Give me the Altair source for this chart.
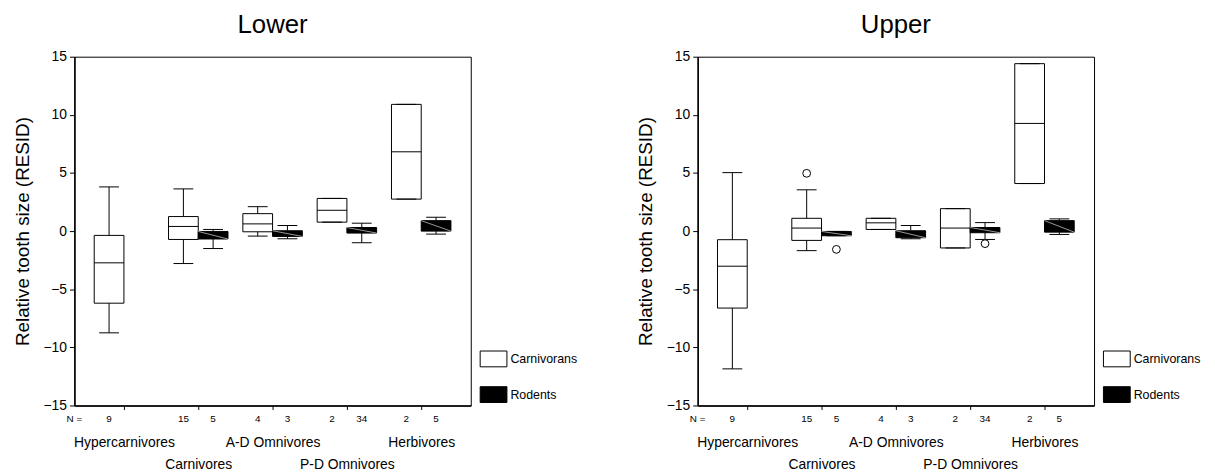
import json
import altair as alt
import pandas as pd

# ---------------- data ----------------
categories = ["Hypercarnivores", "Carnivores", "A-D Omnivores", "P-D Omnivores", "Herbivores"]
groups = ["Carnivorans", "Rodents"]

# Lower teeth
lower_carn_n = [9, 15, 4, 2, 2]
lower_carn_lo = [-8.75, -2.79, -0.43, 0.77, 2.75]
lower_carn_q1 = [-6.2, -0.72, -0.06, 0.77, 2.75]
lower_carn_med = [-2.73, 0.4, 0.62, 1.79, 6.82]
lower_carn_q3 = [-0.37, 1.25, 1.5, 2.81, 10.9]
lower_carn_hi = [3.8, 3.63, 2.1, 2.81, 10.9]

lower_rod_n = [None, 5, 3, 34, 5]
lower_rod_lo = [None, -1.5, -0.66, -1.0, -0.26]
lower_rod_q1 = [None, -0.68, -0.46, -0.17, 0.0]
lower_rod_med = [None, -0.35, -0.25, 0.1, 0.45]
lower_rod_q3 = [None, -0.03, 0.03, 0.31, 0.9]
lower_rod_hi = [None, 0.14, 0.48, 0.68, 1.19]

# Upper teeth
upper_carn_n = [9, 15, 4, 2, 2]
upper_carn_lo = [-11.85, -1.68, 0.14, -1.45, 4.09]
upper_carn_q1 = [-6.62, -0.8, 0.14, -1.45, 4.09]
upper_carn_med = [-3.02, 0.26, 0.71, 0.26, 9.26]
upper_carn_q3 = [-0.74, 1.1, 1.1, 1.93, 14.4]
upper_carn_hi = [5.03, 3.55, 1.1, 1.93, 14.4]

upper_rod_n = [None, 5, 3, 34, 5]
upper_rod_lo = [None, -0.4, -0.66, -0.72, -0.29]
upper_rod_q1 = [None, -0.4, -0.57, -0.14, -0.09]
upper_rod_med = [None, -0.25, -0.3, 0.1, 0.4]
upper_rod_q3 = [None, -0.03, 0.03, 0.31, 0.9]
upper_rod_hi = [None, -0.03, 0.48, 0.73, 1.05]

# outliers: (category, group, value)
lower_out_cat = []
lower_out_grp = []
lower_out_val = []
upper_out_cat = ["Carnivores", "Carnivores", "P-D Omnivores"]
upper_out_grp = ["Carnivorans", "Rodents", "Rodents"]
upper_out_val = [4.97, -1.57, -1.08]

y_ticks = [-15, -10, -5, 0, 5, 10, 15]

FONT = "Liberation Sans"


def build(carn, rod):
    rows = []
    for g, arrs in zip(groups, (carn, rod)):
        n, lo, q1, med, q3, hi = arrs
        for i, c in enumerate(categories):
            if n[i] is None:
                continue
            rows.append(dict(category=c, ci=i, group=g, n=str(n[i]), lo=lo[i], q1=q1[i],
                             med=med[i], q3=q3[i], hi=hi[i]))
    return pd.DataFrame(rows)


def build_out(cats, grps, vals):
    return pd.DataFrame(dict(category=cats, ci=[categories.index(c) for c in cats],
                             group=grps, value=vals))


W, H = 400, 352
XDOM = [-2 / 3, 14 / 3]
label_expr = json.dumps(categories) + "[datum.value]"

xscale = alt.Scale(domain=XDOM, nice=False, zero=False)
yscale = alt.Scale(domain=[-15, 15], nice=False, zero=False)

xaxis = alt.Axis(values=list(range(len(categories))), labelExpr=label_expr, title=None,
                 grid=False, tickSize=4, tickColor="black", domainColor="black",
                 domainWidth=1.5, labelFont=FONT, labelFontSize=14, labelColor="black",
                 labelOverlap=False, labelFlush=False, labelBound=False,
                 labelBaseline="alphabetic",
                 labelPadding={"condition": {"test": "datum.value % 2 == 1", "value": 60},
                               "value": 37})
yaxis = alt.Axis(values=y_ticks, title="Relative tooth size (RESID)", grid=False,
                 tickSize=5, tickColor="black", domainColor="black", domainWidth=1.5,
                 labelFont=FONT, labelFontSize=14, labelColor="black", labelFlush=False,
                 labelPadding=3, titleFont=FONT, titleFontSize=19, titleFontWeight="normal",
                 titleColor="black", titlePadding=11)


def X(f):
    return alt.X(f + ":Q", scale=xscale, axis=xaxis)


def Y(f):
    return alt.Y(f + ":Q", scale=yscale, axis=yaxis)


def panel(df, out, title):
    base = alt.Chart(df).transform_calculate(
        side="datum.group == 'Carnivorans' ? -1 : 1",
    ).transform_calculate(
        xc="datum.ci + 0.2 * datum.side",
        x0="datum.ci + (datum.side < 0 ? -0.4 : 0)",
        x1="datum.ci + (datum.side < 0 ? 0 : 0.4)",
    ).transform_calculate(
        c0="datum.xc - 0.1333",
        c1="datum.xc + 0.1333",
    )

    upper_wh = base.mark_rule(color="black", strokeWidth=1).encode(x=X("xc"), y=Y("q3"), y2="hi")
    lower_wh = base.mark_rule(color="black", strokeWidth=1).encode(x=X("xc"), y=Y("lo"), y2="q1")
    cap_hi = base.mark_rule(color="black", strokeWidth=1).encode(x=X("c0"), x2="c1", y=Y("hi"))
    cap_lo = base.mark_rule(color="black", strokeWidth=1).encode(x=X("c0"), x2="c1", y=Y("lo"))

    boxes = base.mark_bar(stroke="black", strokeWidth=1).encode(
        x=X("x0"),
        x2="x1",
        y=Y("q1"),
        y2="q3",
        fill=alt.Fill("group:N", scale=alt.Scale(domain=groups, range=["white", "black"]),
                      legend=alt.Legend(title=None, orient="none", legendX=409, legendY=291,
                                        symbolType="M-1,-0.59L1,-0.59L1,0.59L-1,0.59Z",
                                        symbolSize=729, symbolStrokeColor="black",
                                        symbolStrokeWidth=1, symbolOpacity=1,
                                        labelFont=FONT, labelFontSize=12.5, labelColor="black",
                                        labelOffset=3, rowPadding=12, padding=0)),
    )
    medians = base.mark_rule(color="black", strokeWidth=1).encode(
        x=X("x0"), x2="x1", y=Y("med"))
    diag = base.transform_filter("datum.group == 'Rodents'").mark_rule(
        color="white", strokeWidth=0.6).encode(x=X("x0"), x2="x1", y=Y("q3"), y2="q1")

    layers = [boxes, upper_wh, lower_wh, cap_hi, cap_lo, medians, diag]

    if len(out):
        outl = alt.Chart(out).transform_calculate(
            xc="datum.ci + (datum.group == 'Carnivorans' ? -0.2 : 0.2)"
        ).mark_point(shape="circle", size=62, filled=True, fill="white", stroke="black",
                     strokeWidth=1, opacity=1).encode(x=X("xc"), y=Y("value"))
        layers.append(outl)

    nlab = base.mark_text(font=FONT, fontSize=10, color="black", baseline="alphabetic",
                          align="center").encode(x=X("xc"), y=alt.value(369), text="n:N")
    nhead = alt.Chart(pd.DataFrame({"t": ["N ="]})).mark_text(
        font=FONT, fontSize=10, color="black", baseline="alphabetic", align="center"
    ).encode(x=alt.value(0), y=alt.value(369), text="t:N")
    layers += [nlab, nhead]

    return alt.layer(*layers).properties(
        width=W, height=H,
        title=alt.TitleParams(title, font=FONT, fontSize=26, fontWeight="normal",
                              color="black", anchor="middle", frame="group", offset=12),
    )


lower = panel(build((lower_carn_n, lower_carn_lo, lower_carn_q1, lower_carn_med, lower_carn_q3, lower_carn_hi),
                    (lower_rod_n, lower_rod_lo, lower_rod_q1, lower_rod_med, lower_rod_q3, lower_rod_hi)),
              build_out(lower_out_cat, lower_out_grp, lower_out_val), "Lower")
upper = panel(build((upper_carn_n, upper_carn_lo, upper_carn_q1, upper_carn_med, upper_carn_q3, upper_carn_hi),
                    (upper_rod_n, upper_rod_lo, upper_rod_q1, upper_rod_med, upper_rod_q3, upper_rod_hi)),
              build_out(upper_out_cat, upper_out_grp, upper_out_val), "Upper")

chart = alt.hconcat(lower, upper, spacing=57).resolve_scale(fill="independent").configure(
    background="white", padding={"left": 4, "top": 1, "right": 5, "bottom": 0}
).configure_view(stroke="black", strokeWidth=1)

chart.save("out.html", embed_options={"renderer": "svg", "actions": False})
